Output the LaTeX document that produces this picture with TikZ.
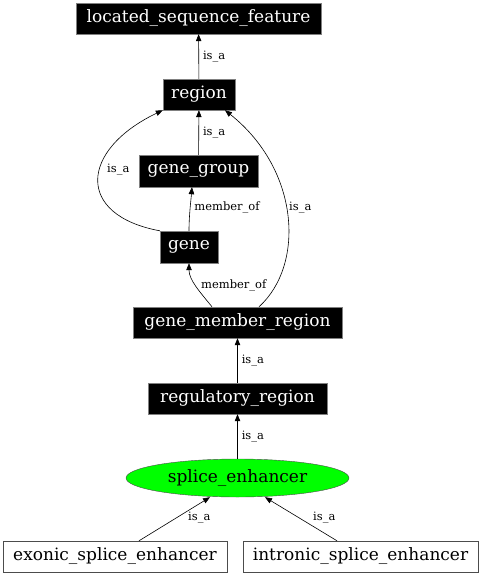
\documentclass[tikz,border=0pt]{standalone}
\usepackage{fontspec}
\setmainfont{DejaVu Serif}
\usetikzlibrary{arrows.meta,shapes.geometric}
\tikzset{
  dark/.style={fill=black,draw=gray,text=white,inner sep=0pt,font=\fontsize{17}{18}\selectfont},
  light/.style={fill=white,draw=black!70,text=black,inner sep=0pt,font=\fontsize{17}{18}\selectfont},
  edge/.style={draw=black,line width=0.6pt,-{Triangle[length=7pt,width=5.5pt]}},
  lbl/.style={anchor=west,inner sep=0pt,font=\fontsize{11.5}{12}\selectfont},
}
\begin{document}
\begin{tikzpicture}[x=1pt,y=-1pt]
\useasboundingbox (0,0) rectangle (482,576);
\node[dark,minimum width=245pt,minimum height=31pt] (lsf) at (198.5,18.5) {located\_sequence\_feature};
\node[dark,minimum width=72pt,minimum height=31pt] (region) at (199,94.5) {region};
\node[dark,minimum width=119pt,minimum height=32pt] (gg) at (198.5,171) {gene\_group};
\node[dark,minimum width=58pt,minimum height=32pt] (gene) at (189,247) {gene};
\node[dark,minimum width=209pt,minimum height=31pt] (gmr) at (237.5,322.5) {gene\_member\_region};
\node[dark,minimum width=179pt,minimum height=31pt] (rr) at (237.5,398.5) {regulatory\_region};
\node[ellipse,fill=green,draw=black!70,inner sep=0pt,minimum width=223pt,minimum height=38pt,font=\fontsize{17}{18}\selectfont] (se) at (237.5,478) {splice\_enhancer};
\node[light,minimum width=224pt,minimum height=31pt] (ese) at (115,556.5) {exonic\_splice\_enhancer};
\node[light,minimum width=235pt,minimum height=31pt] (ise) at (360.5,556.5) {intronic\_splice\_enhancer};

\draw[edge] (region) -- (lsf) node[lbl,midway,xshift=4pt] {is\_a};
\draw[edge] (gg) -- (region) node[lbl,midway,xshift=4pt] {is\_a};
\draw[edge] (gene.north) .. controls (189,215) and (191,200) .. (gg.south -| 192,0) node[lbl,pos=0.5,xshift=4pt] {member\_of};
\draw[edge] (gene.north west) .. controls (75,215) and (80,150) .. (region.south west);
\node[lbl] (l1) at (107,170) {is\_a};
\draw[edge] (gmr.north -| 212,0) .. controls (200,292) and (189,280) .. (gene.south);
\node[lbl] (l2) at (201,285) {member\_of};
\draw[edge] (gmr.north -| 259,0) .. controls (305,265) and (300,170) .. (region.south east -| 225,0);
\node[lbl] (l3) at (289,208) {is\_a};
\draw[edge] (rr) -- (gmr) node[lbl,midway,xshift=4pt] {is\_a};
\draw[edge] (se) -- (rr) node[lbl,midway,xshift=4pt] {is\_a};
\draw[edge] (ese.north -| 139,0) -- (se.south -| 210,0);
\node[lbl] (l4) at (188,518) {is\_a};
\draw[edge] (ise.north -| 337,0) -- (se.south -| 265,0);
\node[lbl] (l5) at (313,518) {is\_a};
\end{tikzpicture}
\end{document}
